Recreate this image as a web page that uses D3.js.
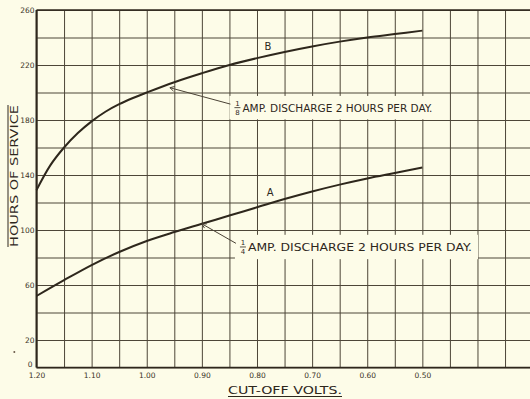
<!DOCTYPE html>
<html>
<head>
<meta charset="utf-8">
<script src="https://cdn.jsdelivr.net/npm/d3@7"></script>
<style>
  body { margin: 0; background: #fdfce8; }
  svg { display: block; }
  .grid line { stroke: #4d4638; stroke-width: 1; }
  .grid path { display: none; }
  .lbl text { font-family: "DejaVu Sans", sans-serif; font-size: 7.5px; fill: #3a3226; }
  .lbl path, .lbl line { display: none; }
</style>
</head>
<body>
<div id="chart"></div>
<script>
// curve B : 1/8 amp discharge, curve A : 1/4 amp discharge
var voltsB = [1.20, 1.175, 1.15, 1.125, 1.10, 1.075, 1.05, 1.025, 1.00, 0.95, 0.90, 0.85, 0.80, 0.75, 0.70, 0.65, 0.60, 0.55, 0.50];
var hoursB = [129, 147, 160, 170.5, 179, 186, 191.5, 196, 200, 207.5, 214, 220, 225, 229.5, 233.5, 237, 240, 242.5, 245];
var voltsA = [1.20, 1.15, 1.10, 1.05, 1.00, 0.95, 0.90, 0.85, 0.80, 0.75, 0.70, 0.65, 0.60, 0.55, 0.50];
var hoursA = [52, 63.5, 74.5, 84, 92, 98.5, 104.5, 110.5, 116.5, 122.5, 128, 133, 137.5, 141.5, 145.5];

var xTickLabels = ["1.20", "1.10", "1.00", "0.90", "0.80", "0.70", "0.60", "0.50"];
var yTickLabels = ["0", "20", "60", "100", "140", "180", "220", "260"];

var width = 530, height = 399;
var ink = "#2e271c";

var x = d3.scaleLinear().domain([1.20, 0.30]).range([36.5, 532.6]);
var y = d3.scaleLinear().domain([0, 260]).range([367.5, 10]);

var svg = d3.select("#chart").append("svg")
    .attr("width", width)
    .attr("height", height);

svg.append("rect").attr("width", width).attr("height", height).attr("fill", "#fdfce8");

// grid
svg.append("g")
    .attr("class", "grid")
    .attr("transform", "translate(0," + y(0) + ")")
    .call(d3.axisBottom(x).tickValues(d3.range(24).map(function(i) { return 1.20 - i * 0.05; }))
          .tickSize(y(260) - y(0)).tickFormat(""));

svg.append("g")
    .attr("class", "grid")
    .attr("transform", "translate(" + x(1.20) + ",0)")
    .call(d3.axisLeft(y).tickValues(d3.range(0, 261, 20))
          .tickSize(-(x(0.30) - x(1.20))).tickFormat(""));

// frame
svg.append("line").attr("x1", x(1.20)).attr("x2", x(1.20)).attr("y1", y(260)).attr("y2", y(0))
    .attr("stroke", ink).attr("stroke-width", 2);
svg.append("line").attr("x1", x(1.20)).attr("x2", width).attr("y1", y(260)).attr("y2", y(260))
    .attr("stroke", ink).attr("stroke-width", 1.6);
svg.append("line").attr("x1", x(1.20)).attr("x2", width).attr("y1", y(0)).attr("y2", y(0))
    .attr("stroke", ink).attr("stroke-width", 1.6);

// tick labels
svg.append("g")
    .attr("class", "lbl")
    .attr("transform", "translate(0," + (y(0) + 2) + ")")
    .call(d3.axisBottom(x).tickValues(xTickLabels.map(Number)).tickSize(0)
          .tickFormat(function(d, i) { return xTickLabels[i]; }));

var yl = svg.append("g")
    .attr("class", "lbl")
    .attr("transform", "translate(" + (x(1.20) - 1) + ",0)")
    .call(d3.axisLeft(y).tickValues(yTickLabels.map(Number)).tickSize(0).tickPadding(1)
          .tickFormat(function(d, i) { return yTickLabels[i]; }));
// lift the "0" so it clears the 1.20 label
yl.selectAll(".tick text").filter(function(d) { return d === 0; })
    .attr("dy", "-0.1em").attr("x", -3);

// annotation boxes
var notes = [
  {den: "8", v0: 0.850, v1: 0.466, h0: 197.5, h1: 180.5, tipV: 0.958, tipH: 203.5, len: 190},
  {den: "4", v0: 0.840, v1: 0.399, h0: 96.5, h1: 78.8, tipV: 0.900, tipH: 104.5, len: 224}
];

var line = d3.line()
    .x(function(d) { return x(d[0]); })
    .y(function(d) { return y(d[1]); })
    .curve(d3.curveCatmullRom.alpha(0.5));

svg.append("path")
    .datum(d3.zip(voltsB, hoursB))
    .attr("d", line)
    .attr("fill", "none").attr("stroke", ink).attr("stroke-width", 2);

svg.append("path")
    .datum(d3.zip(voltsA, hoursA))
    .attr("d", line)
    .attr("fill", "none").attr("stroke", ink).attr("stroke-width", 2);

notes.forEach(function(n) {
    var bx = x(n.v0), by = y(n.h0), bw = x(n.v1) - x(n.v0), bh = y(n.h1) - y(n.h0);
    svg.append("rect").attr("x", bx).attr("y", by).attr("width", bw).attr("height", bh)
        .attr("fill", "#fdfce8");
    // leader
    var tx = x(n.tipV), ty = y(n.tipH);
    svg.append("line").attr("x1", tx).attr("y1", ty).attr("x2", bx + 1).attr("y2", by + bh * 0.35)
        .attr("stroke", "#4a4235").attr("stroke-width", 1);
    var ang = Math.atan2(by + bh * 0.35 - ty, bx + 1 - tx);
    [0.5, -0.5].forEach(function(s) {
        svg.append("line").attr("x1", tx).attr("y1", ty)
            .attr("x2", tx + 5 * Math.cos(ang + s)).attr("y2", ty + 5 * Math.sin(ang + s))
            .attr("stroke", "#4a4235").attr("stroke-width", 1);
    });
    // fraction 1/n
    var fx = bx + 8, cy = by + bh / 2;
    svg.append("text").attr("x", fx).attr("y", cy - 1.5).attr("text-anchor", "middle")
        .attr("font-family", "DejaVu Sans, sans-serif").attr("font-size", 7).attr("fill", ink).text("1");
    svg.append("line").attr("x1", fx - 3).attr("x2", fx + 3).attr("y1", cy).attr("y2", cy)
        .attr("stroke", ink).attr("stroke-width", 0.8);
    svg.append("text").attr("x", fx).attr("y", cy + 7.5).attr("text-anchor", "middle")
        .attr("font-family", "DejaVu Sans, sans-serif").attr("font-size", 7).attr("fill", ink).text(n.den);
    svg.append("text").attr("x", fx + 5).attr("y", cy + 4)
        .attr("font-family", "DejaVu Sans, sans-serif").attr("font-size", 10.5).attr("fill", ink)
        .attr("textLength", n.len).attr("lengthAdjust", "spacingAndGlyphs")
        .text("AMP. DISCHARGE  2 HOURS PER DAY.");
});

// curve letters
svg.append("text").attr("x", x(0.78)).attr("y", y(231)).attr("text-anchor", "middle")
    .attr("font-family", "DejaVu Sans, sans-serif").attr("font-size", 10).attr("fill", ink).text("B");
svg.append("text").attr("x", x(0.776)).attr("y", y(124.5)).attr("text-anchor", "middle")
    .attr("font-family", "DejaVu Sans, sans-serif").attr("font-size", 10).attr("fill", ink).text("A");

// axis titles
svg.append("text")
    .attr("transform", "translate(17.5,176) rotate(-90)")
    .attr("text-anchor", "middle")
    .attr("font-family", "DejaVu Sans, sans-serif").attr("font-size", 10).attr("fill", ink)
    .attr("textLength", 142).attr("lengthAdjust", "spacingAndGlyphs")
    .text("HOURS OF SERVICE");
svg.append("line").attr("x1", 8).attr("x2", 8).attr("y1", 105).attr("y2", 247)
    .attr("stroke", ink).attr("stroke-width", 1);

svg.append("text")
    .attr("x", 285).attr("y", 394)
    .attr("text-anchor", "middle")
    .attr("font-family", "DejaVu Sans, sans-serif").attr("font-size", 11).attr("fill", ink)
    .attr("textLength", 114).attr("lengthAdjust", "spacingAndGlyphs")
    .text("CUT-OFF VOLTS.");
svg.append("line").attr("x1", 228).attr("x2", 342).attr("y1", 396.5).attr("y2", 396.5)
    .attr("stroke", ink).attr("stroke-width", 1);

// stray speck on the sheet
svg.append("circle").attr("cx", 14.3).attr("cy", 352).attr("r", 1).attr("fill", "#6a5a4a");
</script>
</body>
</html>
